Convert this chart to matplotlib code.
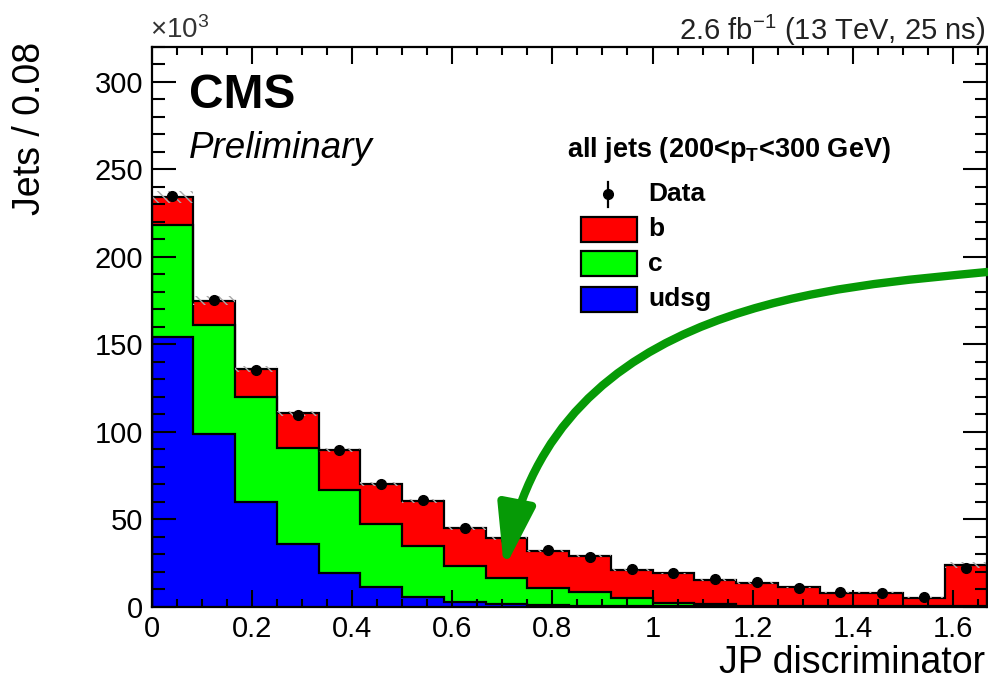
import numpy as np
import matplotlib
matplotlib.use("Agg")
import matplotlib.pyplot as plt
from matplotlib.patches import Rectangle, FancyArrowPatch
from matplotlib.path import Path
from matplotlib.ticker import MultipleLocator

plt.rcParams['font.family'] = ['Liberation Sans', 'DejaVu Sans']

# JP discriminator, 20 bins of width 1/12 (values in units of 10^3 jets)
bin_edges = np.linspace(0, 5 / 3, 21)
udsg = [154, 99, 60, 36, 19, 11, 5.7, 2.9, 1.5, 1.0, 0.6, 0.4, 0.3, 0.2, 0.1, 0.1, 0.1, 0.1, 0.1, 0.1]
c_jets = [64, 62, 60, 54.5, 47.7, 36, 29, 20.1, 14.8, 9.9, 7.6, 4.7, 2.0, 1.6, 0.4, 0.2, 0.1, 0.1, 0.1, 0.2]
b_jets = [16, 14, 16, 20, 22.8, 23, 25.7, 21.8, 22.7, 21.1, 20.8, 15.9, 16.7, 13.4, 13.2, 10.7, 7.8, 7.8, 5.0, 23.5]
data = [235, 175.2, 135.6, 109.5, 89.5, 69.9, 61, 44.8, 38.5, 32.4, 28.6, 21.7, 19.4, 16, 14.1, 10.5, 8.4, 8, 5.3, 21.9]
mc_unc = [3.4, 2.4, 1.8, 1.5, 1.3, 1.1, 1.0, 0.9, 0.8, 0.7, 0.6, 0.6, 0.5, 0.5, 0.5, 0.4, 0.4, 0.4, 0.3, 1.5]

W, H = 988, 684


def px(x, y):
    # image pixel -> figure fraction
    return x / W, 1 - y / H


fig = plt.figure(figsize=(W / 100, H / 100), dpi=100)
ax = fig.add_axes([151.5 / W, 1 - 606.7 / H, (986.5 - 151.5) / W, (606.7 - 47) / H])

lvl0 = np.zeros(20)
lvl1 = lvl0 + np.array(udsg)
lvl2 = lvl1 + np.array(c_jets)
lvl3 = lvl2 + np.array(b_jets)

ax.stairs(lvl1, bin_edges, baseline=lvl0, fill=True, color='#0000ff', zorder=1)
ax.stairs(lvl2, bin_edges, baseline=lvl1, fill=True, color='#00ff00', zorder=1)
ax.stairs(lvl3, bin_edges, baseline=lvl2, fill=True, color='#ff0000', zorder=1)
for lv in (lvl1, lvl2, lvl3):
    ax.stairs(lv, bin_edges, baseline=0, color='black', lw=1.6, zorder=1.5)

# MC uncertainty band
centers = 0.5 * (bin_edges[1:] + bin_edges[:-1])
unc = np.array(mc_unc)
ax.bar(centers, 2 * unc, bottom=lvl3 - unc, width=bin_edges[1] - bin_edges[0],
       facecolor='none', edgecolor='#aaaaaa', hatch='\\\\\\', linewidth=0, zorder=1.8)

ax.plot(centers, data, 'o', color='black', markersize=7, zorder=3)

ax.set_xlim(0, 5 / 3)
ax.set_ylim(0, 320)
ax.xaxis.set_major_locator(MultipleLocator(0.2))
ax.xaxis.set_minor_locator(MultipleLocator(0.05))
ax.yaxis.set_major_locator(MultipleLocator(50))
ax.yaxis.set_minor_locator(MultipleLocator(10))
ax.set_xticks(np.arange(0, 1.61, 0.2))
ax.set_xticklabels(['0', '0.2', '0.4', '0.6', '0.8', '1', '1.2', '1.4', '1.6'])
ax.tick_params(which='both', direction='in', top=True, right=True, width=1.5,
               labelsize=21, pad=6)
ax.tick_params(axis='x', which='major', length=12)
ax.tick_params(axis='x', which='minor', length=6)
ax.tick_params(axis='y', which='major', length=17)
ax.tick_params(axis='y', which='minor', length=9)
for s in ax.spines.values():
    s.set_linewidth(1.6)

fig.text(*px(985, 663), 'JP discriminator', fontsize=27, ha='right', va='center')
fig.text(*px(30, 42), 'Jets / 0.08', fontsize=27, rotation=90, ha='center', va='top')
fig.text(*px(150, 30), r'$\mathregular{\times 10^{3}}$', fontsize=20, ha='left', va='center',
         color='#333333')
fig.text(*px(985, 30), r'2.6 fb$\mathregular{^{-1}}$ (13 TeV, 25 ns)', fontsize=21,
         ha='right', va='center', color='#222222')
fig.text(*px(189, 96), 'CMS', fontsize=34.5, fontweight='bold', ha='left', va='center')
fig.text(*px(189, 148), 'Preliminary', fontsize=26.5, style='italic', ha='left', va='center')

# legend
fig.text(*px(567, 150), r'all jets (200<p$\mathregular{_T}$<300 GeV)', fontsize=19.5,
         fontweight='bold', ha='left', va='center')
fig.add_artist(plt.Line2D([608 / W, 608 / W], [1 - 182 / H, 1 - 207 / H], color='black',
                          lw=1.6, transform=fig.transFigure))
fig.add_artist(plt.Line2D([608 / W], [1 - 194 / H], marker='o', color='black',
                          markersize=7, transform=fig.transFigure))
fig.text(*px(648, 194), 'Data', fontsize=19, fontweight='bold', ha='left', va='center')
leg_rows = [('b', '#ff0000', 229), ('c', '#00ff00', 264), ('udsg', '#0000ff', 299)]
for lab, col, yc in leg_rows:
    x0, y0 = px(581, yc + 12.5)
    fig.add_artist(Rectangle((x0, y0), 56 / W, 25 / H, facecolor=col, edgecolor='black',
                             lw=1.6, transform=fig.transFigure))
    fig.text(*px(648, yc), lab, fontsize=19, fontweight='bold', ha='left', va='center')

# green annotation arrow (cubic curve in image pixels)
arrow_pts = [px(987, 272), px(838, 287), px(556, 300), px(504, 569)]
arrow_path = Path(arrow_pts, [Path.MOVETO, Path.CURVE4, Path.CURVE4, Path.CURVE4])
arrow = FancyArrowPatch(path=arrow_path, transform=fig.transFigure,
                        arrowstyle='-|>,head_length=2.7,head_width=0.8',
                        mutation_scale=14, color='#069a06', lw=6, zorder=5)
fig.add_artist(arrow)

fig.savefig('out.png', dpi=100)
